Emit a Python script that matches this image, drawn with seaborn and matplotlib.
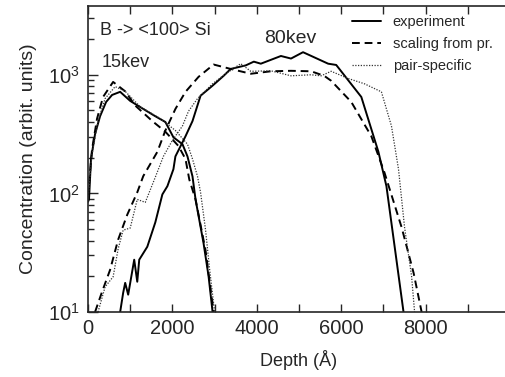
import numpy as np
import pandas as pd
import matplotlib
matplotlib.use("Agg")
import matplotlib.pyplot as plt
import seaborn as sns
from matplotlib.ticker import LogLocator, NullFormatter

# 15 keV profiles (depth in Angstrom, concentration arbitrary units)
exp15_x = [0, 24, 71, 167, 286, 429, 571, 762, 1000, 1310, 1595, 1833, 2024,
           2238, 2357, 2476, 2548, 2738, 2857, 2952]
exp15_y = [85, 89, 195, 316, 447, 590, 676, 718, 602, 515, 447, 400, 297,
           260, 205, 139, 89, 38, 20, 10]

sc15_x = [0, 95, 214, 357, 595, 881, 1119, 1524, 1833, 2143, 2310, 2400,
          2548, 2786, 2976]
sc15_y = [95, 234, 426, 650, 870, 725, 550, 407, 331, 251, 195, 131,
          89, 33, 10]

ps15_x = [0, 95, 238, 405, 643, 881, 1238, 1714, 2071, 2357, 2476, 2595,
          2667, 2786, 2881, 3000]
ps15_y = [90, 213, 407, 630, 795, 725, 537, 427, 339, 260, 195, 139,
          102, 49, 23, 10]

# 80 keV profiles
exp80_x = [762, 833, 881, 952, 1095, 1167, 1214, 1405, 1595, 1762, 1881,
           2024, 2071, 2310, 2476, 2667, 2952, 3214, 3381, 3738, 3929, 4095,
           4571, 4810, 5095, 5690, 5881, 6476, 6881, 7071, 7476]
exp80_y = [10, 14.5, 17.6, 14, 27.6, 18, 27.6, 35.5, 57, 98, 115,
           160, 205, 303, 407, 666, 810, 980, 1120, 1200, 1290, 1240,
           1440, 1370, 1550, 1240, 1210, 650, 224, 115, 10]

sc80_x = [167, 333, 524, 714, 929, 1167, 1310, 1643, 1833, 2071, 2310, 2619,
          2976, 3381, 3857, 4333, 4810, 5286, 5595, 5762, 6238, 6714, 7024,
          7429, 7714, 7905]
sc80_y = [10, 14.8, 22.7, 40.7, 66, 102, 140, 224, 339, 515, 718, 960,
          1220, 1120, 1020, 1070, 1080, 1070, 980, 890, 590, 303, 150,
          52, 21.4, 10]

ps80_x = [238, 405, 595, 714, 833, 1000, 1167, 1357, 1595, 1786, 2000, 2238,
          2381, 2595, 2952, 3262, 3619, 3857, 4333, 4810, 5286, 5524, 5762,
          6167, 6548, 6952, 7190, 7357, 7500, 7667, 7738]
ps80_y = [10, 16.3, 19.8, 34, 49, 51, 89, 84, 137, 205, 280, 370,
          493, 630, 840, 1020, 1240, 1070, 1080, 980, 1000, 980, 1070,
          930, 840, 718, 370, 160, 52, 20, 10]

labels = ["experiment", "scaling from pr.", "pair-specific"]
x_major = [0, 2000, 4000, 6000, 8000]
x_minor = [1000, 3000, 5000, 7000, 9000]

sns.set_style("ticks")
plt.rcParams["font.family"] = ["Liberation Sans", "DejaVu Sans"]

fig = plt.figure(figsize=(5.05, 3.77), dpi=100)
ax = fig.add_axes([88 / 505, 65 / 377, 1 - 88 / 505 + 0.01, 306 / 377])

styles = {
    labels[0]: dict(color="black", linestyle="-", linewidth=1.4),
    labels[1]: dict(color="black", linestyle=(0, (4, 2.5)), linewidth=1.4),
    labels[2]: dict(color="#333333", linestyle=(0, (1, 1.2)), linewidth=0.9),
}

curves = [
    (labels[0], exp15_x, exp15_y, True),
    (labels[1], sc15_x, sc15_y, True),
    (labels[2], ps15_x, ps15_y, True),
    (labels[0], exp80_x, exp80_y, False),
    (labels[1], sc80_x, sc80_y, False),
    (labels[2], ps80_x, ps80_y, False),
]

for name, xs, ys, show in curves:
    df = pd.DataFrame({"depth": xs, "conc": ys})
    sns.lineplot(data=df, x="depth", y="conc", ax=ax, sort=False,
                 estimator=None, label=name if show else None,
                 **styles[name])

ax.set_yscale("log")
ax.set_xlim(0, 10000)
ax.set_ylim(10, 3800)

ax.set_xticks(x_major)
ax.set_xticks(x_minor, minor=True)
ax.yaxis.set_major_locator(LogLocator(base=10))
ax.yaxis.set_minor_locator(LogLocator(base=10, subs=np.arange(2, 10)))
ax.yaxis.set_minor_formatter(NullFormatter())

ax.tick_params(which="both", direction="in", top=True, right=False,
               labelsize=14.5, width=1.0)
ax.tick_params(axis="x", which="both", length=6, pad=5)
ax.tick_params(axis="y", which="major", length=7, pad=6)
ax.tick_params(axis="y", which="minor", length=4)
for sp in ax.spines.values():
    sp.set_linewidth(1.2)

ax.set_xlabel("Depth (Å)", fontsize=13, labelpad=9)
ax.set_ylabel("Concentration (arbit. units)", fontsize=14, labelpad=8)

ax.text(286, 2340, "B -> <100> Si", fontsize=13, va="center")
ax.text(333, 1270, "15kev", fontsize=13, va="center")
ax.text(4167, 2020, "80kev", fontsize=14, va="center")

ax.legend(loc="upper left", bbox_to_anchor=(352 / 505, 1 - 15 / 377),
          bbox_transform=fig.transFigure, frameon=False, fontsize=10.5,
          handlelength=2.0, handletextpad=0.8, labelspacing=0.55,
          borderaxespad=0, borderpad=0)

fig.savefig("out.png", dpi=100)
